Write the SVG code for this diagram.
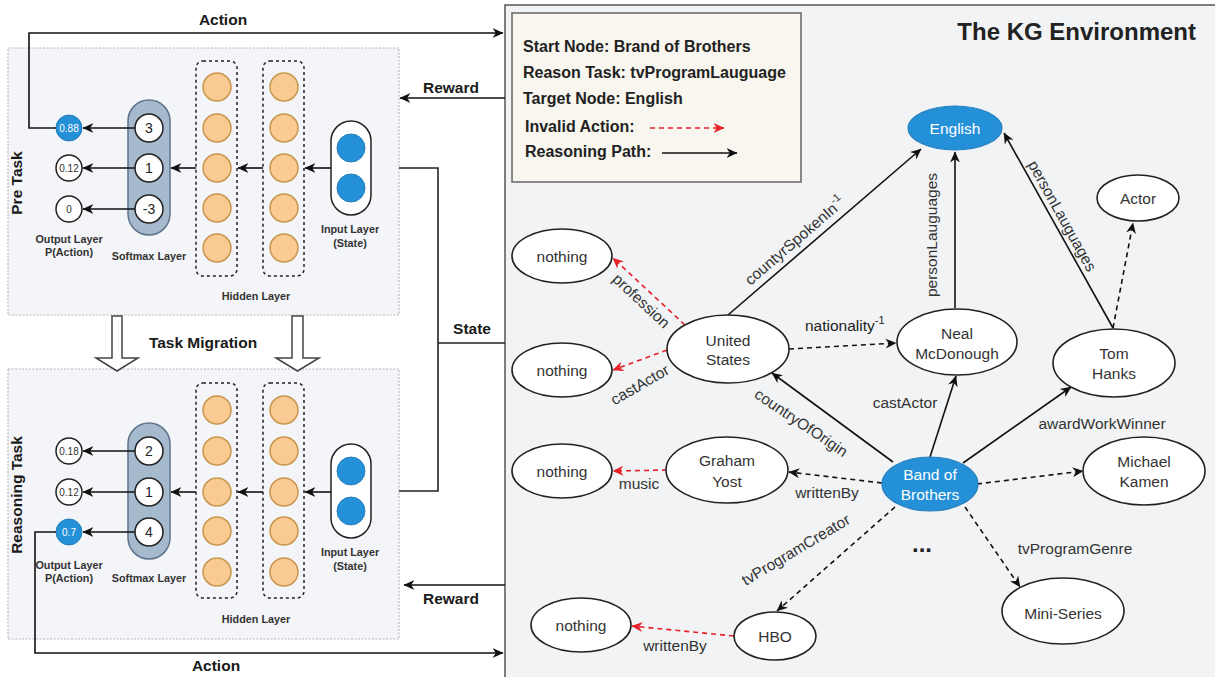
<svg xmlns="http://www.w3.org/2000/svg" width="1215" height="677" viewBox="0 0 1215 677">
<defs>
<marker id="ah" viewBox="0 0 10 10" refX="9.5" refY="5" markerWidth="11" markerHeight="11" markerUnits="userSpaceOnUse" orient="auto"><path d="M0,0.5 L10,5 L0,9.5 L3,5 z" fill="#111"/></marker>
<marker id="ahr" viewBox="0 0 10 10" refX="9.5" refY="5" markerWidth="11" markerHeight="11" markerUnits="userSpaceOnUse" orient="auto"><path d="M0,0.5 L10,5 L0,9.5 L3,5 z" fill="#e8202a"/></marker>
<style>
text{font-family:"Liberation Sans",Arial,sans-serif;fill:#222}
.b{font-weight:bold}
.big{font-size:15.5px;font-weight:bold;fill:#1a1a1a}
.sm{font-size:10.8px;font-weight:bold;fill:#333;text-anchor:middle}
.num{font-size:14px;text-anchor:middle}
.onum{font-size:10px;text-anchor:middle;fill:#333}
.wnum{font-size:10px;text-anchor:middle;fill:#fff}
.panel{fill:#f3f5f8;stroke:#b5b8bc;stroke-width:1.2;stroke-dasharray:2,1.5}
.hid{fill:#f9ca92;stroke:#c9964e;stroke-width:1.5}
.col{fill:none;stroke:#222;stroke-width:1.5;stroke-dasharray:3,3}
.soft{fill:#a6bace;stroke:#5f7389;stroke-width:1.5}
.wc{fill:#fff;stroke:#222;stroke-width:1.5}
.bc{fill:#2490d8;stroke:#2a7fbc;stroke-width:1}
.ln{fill:none;stroke:#222;stroke-width:1.6}
.ar{fill:none;stroke:#111;stroke-width:1.6;marker-end:url(#ah)}
.da{fill:none;stroke:#111;stroke-width:1.6;stroke-dasharray:5,4;marker-end:url(#ah)}
.ra{fill:none;stroke:#e8202a;stroke-width:1.6;stroke-dasharray:5,4;marker-end:url(#ahr)}
.kn{fill:#fff;stroke:#222;stroke-width:1.6}
.kb{fill:#2490d8;stroke:#2a7fbc;stroke-width:1.2}
.nl{font-size:15.5px;text-anchor:middle;fill:#333}
.wl{font-size:15.5px;text-anchor:middle;fill:#fff}
.el{font-size:15.5px;fill:#333;text-anchor:middle}
.lg{font-size:16px;font-weight:bold;fill:#222}
.mig{fill:#fff;stroke:#444;stroke-width:1.5}
</style>
</defs>

<!-- KG environment panel -->
<g id="kg-panel">
<rect x="505" y="5" width="712" height="675" fill="#f1f3f5"/>
<path d="M505,677 L505,5 L1215,5" fill="none" stroke="#555" stroke-width="1.5"/>
<text x="1196" y="40" class="b" font-size="24" text-anchor="end" fill="#111">The KG Environment</text>
</g>

<!-- legend -->
<g id="legend">
<rect x="512" y="13" width="289" height="169" fill="#f8f6ef" stroke="#666" stroke-width="1.5"/>
<text x="523" y="52" class="lg">Start Node: Brand of Brothers</text>
<text x="523" y="78" class="lg">Reason  Task: tvProgramLauguage</text>
<text x="523" y="104" class="lg">Target Node: English</text>
<text x="525" y="132" class="lg">Invalid Action:</text>
<text x="525" y="157" class="lg">Reasoning Path:</text>
<path d="M650,128 L724,128" class="ra"/>
<path d="M662,153 L737,153" class="ar"/>
</g>

<!-- left panels -->
<g id="pre-task">
<rect x="8" y="48" width="391" height="267" class="panel"/>
<text transform="translate(17,183) rotate(-90)" y="5" class="big" text-anchor="middle">Pre Task</text>
</g>
<g id="reasoning-task">
<rect x="8" y="369" width="391" height="270" class="panel"/>
<text transform="translate(17,495) rotate(-90)" y="5" class="big" text-anchor="middle">Reasoning Task</text>
</g>

<!-- pre task network -->
<g id="pre-output">
<circle cx="69" cy="128" r="13" class="bc"/><text x="69" y="131.5" class="wnum">0.88</text>
<circle cx="69" cy="168" r="13" class="wc"/><text x="69" y="171.5" class="onum">0.12</text>
<circle cx="69" cy="209" r="13" class="wc"/><text x="69" y="212.5" class="onum">0</text>
<text x="69" y="243" class="sm">Output Layer</text>
<text x="69" y="256" class="sm">P(Action)</text>
</g>
<g id="pre-softmax">
<rect x="128" y="100" width="42" height="135" rx="21" class="soft"/>
<circle cx="149" cy="128" r="14" class="wc"/><text x="149" y="133" class="num">3</text>
<circle cx="149" cy="168" r="14" class="wc"/><text x="149" y="173" class="num">1</text>
<circle cx="149" cy="209" r="14" class="wc"/><text x="149" y="214" class="num">-3</text>
<text x="149" y="260" class="sm">Softmax Layer</text>
</g>
<g id="pre-hidden">
<rect x="196" y="61" width="41" height="215" rx="7" class="col"/>
<circle cx="217" cy="87" r="14" class="hid"/><circle cx="217" cy="128" r="14" class="hid"/><circle cx="217" cy="168" r="14" class="hid"/><circle cx="217" cy="208" r="14" class="hid"/><circle cx="217" cy="248" r="14" class="hid"/>
<rect x="263" y="61" width="41" height="215" rx="7" class="col"/>
<circle cx="284" cy="87" r="14" class="hid"/><circle cx="284" cy="128" r="14" class="hid"/><circle cx="284" cy="168" r="14" class="hid"/><circle cx="284" cy="208" r="14" class="hid"/><circle cx="284" cy="248" r="14" class="hid"/>
<text x="256" y="300" class="sm">Hidden Layer</text>
</g>
<g id="pre-input">
<rect x="331" y="121" width="40" height="94" rx="20" class="wc"/>
<circle cx="351" cy="148" r="14" class="bc"/><circle cx="351" cy="188" r="14" class="bc"/>
<text x="350" y="233" class="sm">Input Layer</text>
<text x="350" y="247" class="sm">(State)</text>
</g>

<!-- reasoning task network -->
<g id="rt-output">
<circle cx="69" cy="451" r="13" class="wc"/><text x="69" y="454.5" class="onum">0.18</text>
<circle cx="69" cy="492" r="13" class="wc"/><text x="69" y="495.5" class="onum">0.12</text>
<circle cx="69" cy="532" r="13" class="bc"/><text x="69" y="535.5" class="wnum">0.7</text>
<text x="69" y="569" class="sm">Output Layer</text>
<text x="69" y="582" class="sm">P(Action)</text>
</g>
<g id="rt-softmax">
<rect x="128" y="423" width="42" height="136" rx="21" class="soft"/>
<circle cx="149" cy="451" r="14" class="wc"/><text x="149" y="456" class="num">2</text>
<circle cx="149" cy="492" r="14" class="wc"/><text x="149" y="497" class="num">1</text>
<circle cx="149" cy="532" r="14" class="wc"/><text x="149" y="537" class="num">4</text>
<text x="149" y="582" class="sm">Softmax Layer</text>
</g>
<g id="rt-hidden">
<rect x="196" y="383" width="41" height="215" rx="7" class="col"/>
<circle cx="217" cy="410" r="14" class="hid"/><circle cx="217" cy="451" r="14" class="hid"/><circle cx="217" cy="492" r="14" class="hid"/><circle cx="217" cy="531" r="14" class="hid"/><circle cx="217" cy="572" r="14" class="hid"/>
<rect x="263" y="383" width="41" height="215" rx="7" class="col"/>
<circle cx="284" cy="410" r="14" class="hid"/><circle cx="284" cy="451" r="14" class="hid"/><circle cx="284" cy="492" r="14" class="hid"/><circle cx="284" cy="531" r="14" class="hid"/><circle cx="284" cy="572" r="14" class="hid"/>
<text x="256" y="623" class="sm">Hidden Layer</text>
</g>
<g id="rt-input">
<rect x="331" y="444" width="40" height="94" rx="20" class="wc"/>
<circle cx="351" cy="471" r="14" class="bc"/><circle cx="351" cy="511" r="14" class="bc"/>
<text x="350" y="556" class="sm">Input Layer</text>
<text x="350" y="570" class="sm">(State)</text>
</g>

<!-- task migration arrows -->
<g id="task-migration">
<path d="M112,316 L122,316 L122,358 L138,358 L117,371 L96,358 L112,358 Z" class="mig"/>
<path d="M292,316 L303,316 L303,358 L319,358 L297.5,371 L276,358 L292,358 Z" class="mig"/>
<text x="203" y="348" class="big" text-anchor="middle">Task Migration</text>
</g>

<!-- left connectors -->
<g id="left-connectors">
<path d="M135,128 L83,128" class="ar"/>
<path d="M135,168 L83,168" class="ar"/>
<path d="M135,209 L83,209" class="ar"/>
<path d="M196,168 L171,168" class="ar"/>
<path d="M263,168 L238,168" class="ar"/>
<path d="M331,168 L305,168" class="ar"/>
<path d="M135,451 L83,451" class="ar"/>
<path d="M135,492 L83,492" class="ar"/>
<path d="M135,532 L83,532" class="ar"/>
<path d="M196,492 L171,492" class="ar"/>
<path d="M263,492 L238,492" class="ar"/>
<path d="M331,492 L305,492" class="ar"/>
<path d="M56,128 L29,128 L29,33 L503,33" class="ar"/>
<path d="M56,532 L35,532 L35,653 L503,653" class="ar"/>
<path d="M505,98 L400,98" class="ar"/>
<path d="M505,585 L404,585" class="ar"/>
<path d="M399,168 L438,168 L438,491 L399,491" class="ln"/>
<path d="M438,343 L505,343" class="ln"/>
<text x="223" y="25" class="big" text-anchor="middle">Action</text>
<text x="216" y="671" class="big" text-anchor="middle">Action</text>
<text x="451" y="93" class="big" text-anchor="middle">Reward</text>
<text x="451" y="604" class="big" text-anchor="middle">Reward</text>
<text x="472" y="334" class="big" text-anchor="middle">State</text>
</g>

<!-- KG connectors -->
<g id="kg-connectors">
<path d="M728,315 L921,149" class="ar"/>
<path d="M955,308 L955,152" class="ar"/>
<path d="M1113,328 L1004,133" class="ar"/>
<path d="M1113,328 L1133,223" class="da"/>
<path d="M685,325 L613,258" class="ra"/>
<path d="M667,350 L613,370" class="ra"/>
<path d="M789,349 L896,343" class="da"/>
<path d="M893,462 L772,373" class="ar"/>
<path d="M882,483 L789,472" class="da"/>
<path d="M667,470 L613,471" class="ra"/>
<path d="M895,507 L777,611" class="da"/>
<path d="M734,636 L632,626" class="ra"/>
<path d="M930,457 L956,376" class="ar"/>
<path d="M963,463 L1071,387" class="ar"/>
<path d="M977,484 L1083,471" class="da"/>
<path d="M965,507 L1020,587" class="da"/>
<text transform="translate(795,241) rotate(-40.7)" y="5" class="el">countyrSpokenIn<tspan dy="-7" font-size="11">-1</tspan></text>
<text transform="translate(932,235) rotate(-90)" y="5" class="el">personLauguages</text>
<text transform="translate(1062,216) rotate(60.9)" y="5" class="el">personLauguages</text>
<text transform="translate(641,301) rotate(43)" y="5" class="el">profession</text>
<text transform="translate(640,385) rotate(-30)" y="5" class="el">castActor</text>
<text x="805" y="331" font-size="15.5" fill="#333">nationality<tspan dy="-7" font-size="11">-1</tspan></text>
<text transform="translate(801,423) rotate(34)" y="5" class="el">countryOfOrigin</text>
<text x="827" y="498" class="el">writtenBy</text>
<text x="639" y="489" class="el">music</text>
<text transform="translate(796,550) rotate(-31)" y="5" class="el">tvProgramCreator</text>
<text x="675" y="651" class="el">writtenBy</text>
<text x="905" y="408" class="el">castActor</text>
<text x="1102" y="429" class="el">awardWorkWinner</text>
<text x="1075" y="554" class="el">tvProgramGenre</text>
<text x="922" y="552" class="b" font-size="24" text-anchor="middle" fill="#111">...</text>
</g>

<!-- KG nodes -->
<g id="n-english"><ellipse cx="955" cy="128" rx="47" ry="22" class="kb"/><text x="955" y="133.5" class="wl">English</text></g>
<g id="n-actor"><ellipse cx="1138" cy="198" rx="41" ry="23" class="kn"/><text x="1138" y="203.5" class="nl">Actor</text></g>
<g id="n-nothing1"><ellipse cx="562" cy="256" rx="50" ry="27" class="kn"/><text x="562" y="261.5" class="nl">nothing</text></g>
<g id="n-nothing2"><ellipse cx="562" cy="370" rx="50" ry="27" class="kn"/><text x="562" y="375.5" class="nl">nothing</text></g>
<g id="n-us"><ellipse cx="728" cy="349" rx="61" ry="34" class="kn"/><text x="728" y="345.5" class="nl">United</text><text x="728" y="365" class="nl">States</text></g>
<g id="n-neal"><ellipse cx="957" cy="342" rx="60" ry="33" class="kn"/><text x="957" y="338.5" class="nl">Neal</text><text x="957" y="358.5" class="nl">McDonough</text></g>
<g id="n-tom"><ellipse cx="1114" cy="363" rx="61" ry="34" class="kn"/><text x="1114" y="358.5" class="nl">Tom</text><text x="1114" y="378.5" class="nl">Hanks</text></g>
<g id="n-nothing3"><ellipse cx="562" cy="471" rx="50" ry="27" class="kn"/><text x="562" y="476.5" class="nl">nothing</text></g>
<g id="n-graham"><ellipse cx="727" cy="470" rx="61" ry="33" class="kn"/><text x="727" y="465.5" class="nl">Graham</text><text x="727" y="486.5" class="nl">Yost</text></g>
<g id="n-bob"><ellipse cx="930" cy="484" rx="48" ry="27" class="kb"/><text x="930" y="479.5" class="wl">Band of</text><text x="930" y="499.5" class="wl">Brothers</text></g>
<g id="n-michael"><ellipse cx="1144" cy="471" rx="61" ry="34" class="kn"/><text x="1144" y="466.5" class="nl">Michael</text><text x="1144" y="486.5" class="nl">Kamen</text></g>
<g id="n-mini"><ellipse cx="1063" cy="611" rx="61" ry="33" class="kn"/><text x="1063" y="618.5" class="nl">Mini-Series</text></g>
<g id="n-nothing4"><ellipse cx="581" cy="625" rx="50" ry="27" class="kn"/><text x="581" y="630.5" class="nl">nothing</text></g>
<g id="n-hbo"><ellipse cx="775" cy="636" rx="41" ry="24" class="kn"/><text x="775" y="641.5" class="nl">HBO</text></g>
</svg>
